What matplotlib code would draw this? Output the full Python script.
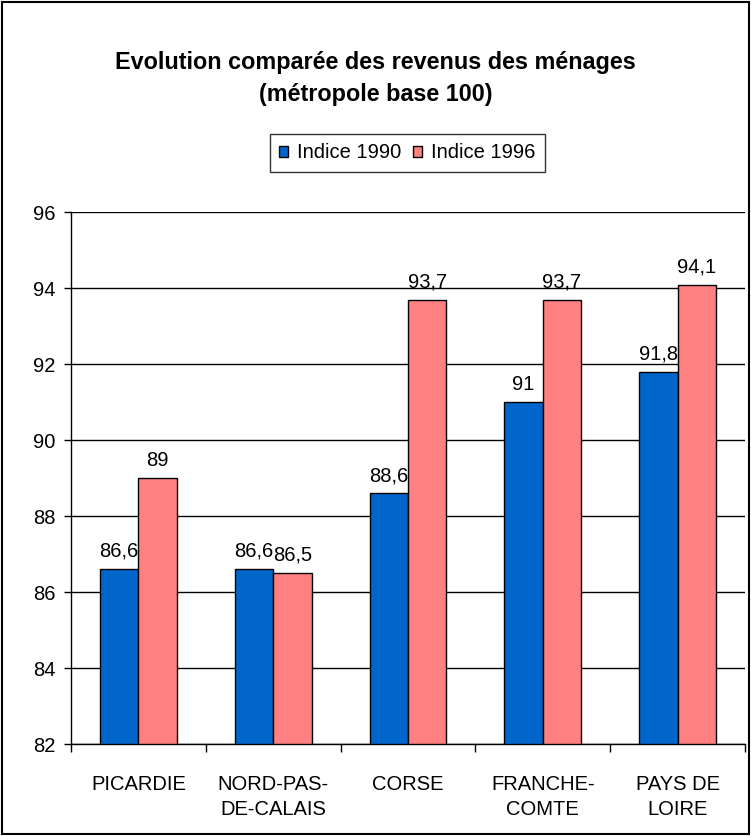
import matplotlib
matplotlib.use("Agg")
import matplotlib.pyplot as plt
import numpy as np
from matplotlib.patches import Rectangle

# Data
regions = ["PICARDIE", "NORD-PAS-\nDE-CALAIS", "CORSE", "FRANCHE-\nCOMTE", "PAYS DE\nLOIRE"]
indice_1990 = [86.6, 86.6, 88.6, 91.0, 91.8]
indice_1996 = [89.0, 86.5, 93.7, 93.7, 94.1]
labels_1990 = ["86,6", "86,6", "88,6", "91", "91,8"]
labels_1996 = ["89", "86,5", "93,7", "93,7", "94,1"]

plt.rcParams['font.family'] = ['Liberation Sans', 'DejaVu Sans']
fs = 14.5

fig = plt.figure(figsize=(7.51, 8.36), dpi=100)
ax = fig.add_axes([0.0945, 0.110, 0.8975, 0.636])

x = np.arange(len(regions))
w = 0.285
b1 = ax.bar(x - w / 2, np.array(indice_1990) - 82, w, bottom=82, color="#0066CC",
            edgecolor="black", linewidth=1, label="Indice 1990", zorder=3)
b2 = ax.bar(x + w / 2, np.array(indice_1996) - 82, w, bottom=82, color="#FF8080",
            edgecolor="black", linewidth=1, label="Indice 1996", zorder=3)

for xi, v, t in zip(x, indice_1990, labels_1990):
    ax.text(xi - w / 2, v + 0.22, t, ha="center", va="bottom", fontsize=fs)
for xi, v, t in zip(x, indice_1996, labels_1996):
    ax.text(xi + w / 2, v + 0.22, t, ha="center", va="bottom", fontsize=fs)

ax.set_ylim(82, 96)
ax.set_xlim(-0.5, len(regions) - 0.5)
ax.set_yticks(range(82, 97, 2))
ax.yaxis.grid(True, color="black", linewidth=1, zorder=0)
ax.set_axisbelow(True)

# category boundary ticks on x axis
ax.set_xticks(np.arange(-0.5, len(regions), 1.0))
ax.set_xticklabels([])
ax.set_xticks(x, minor=True)
ax.set_xticklabels(regions, minor=True, fontsize=fs, linespacing=1.45)
ax.tick_params(axis="x", which="minor", length=0, pad=22)
ax.tick_params(axis="x", which="major", length=6, width=1, direction="out")
ax.tick_params(axis="y", length=5, width=1, labelsize=fs, pad=6)

for s in ["top", "right"]:
    ax.spines[s].set_visible(False)
ax.spines["left"].set_linewidth(1)
ax.spines["bottom"].set_linewidth(1)

fig.text(0.5, 0.906, "Evolution comparée des revenus des ménages\n(métropole base 100)",
         ha="center", va="center", fontsize=16.8, fontweight="bold", linespacing=1.5)

leg = fig.legend(handles=[b1, b2], loc="center", bbox_to_anchor=(0.542, 0.817), ncol=2,
                 fontsize=fs, frameon=True, fancybox=False, edgecolor="black",
                 handlelength=0.45, handleheight=0.45, handletextpad=0.45,
                 columnspacing=0.6, borderpad=0.45, borderaxespad=0)
leg.get_frame().set_linewidth(1)

fig.patches.append(Rectangle((0.002, 0.002), 0.996, 0.996, transform=fig.transFigure,
                             fill=False, edgecolor="black", linewidth=1.5))

fig.savefig("out.png", dpi=100)
